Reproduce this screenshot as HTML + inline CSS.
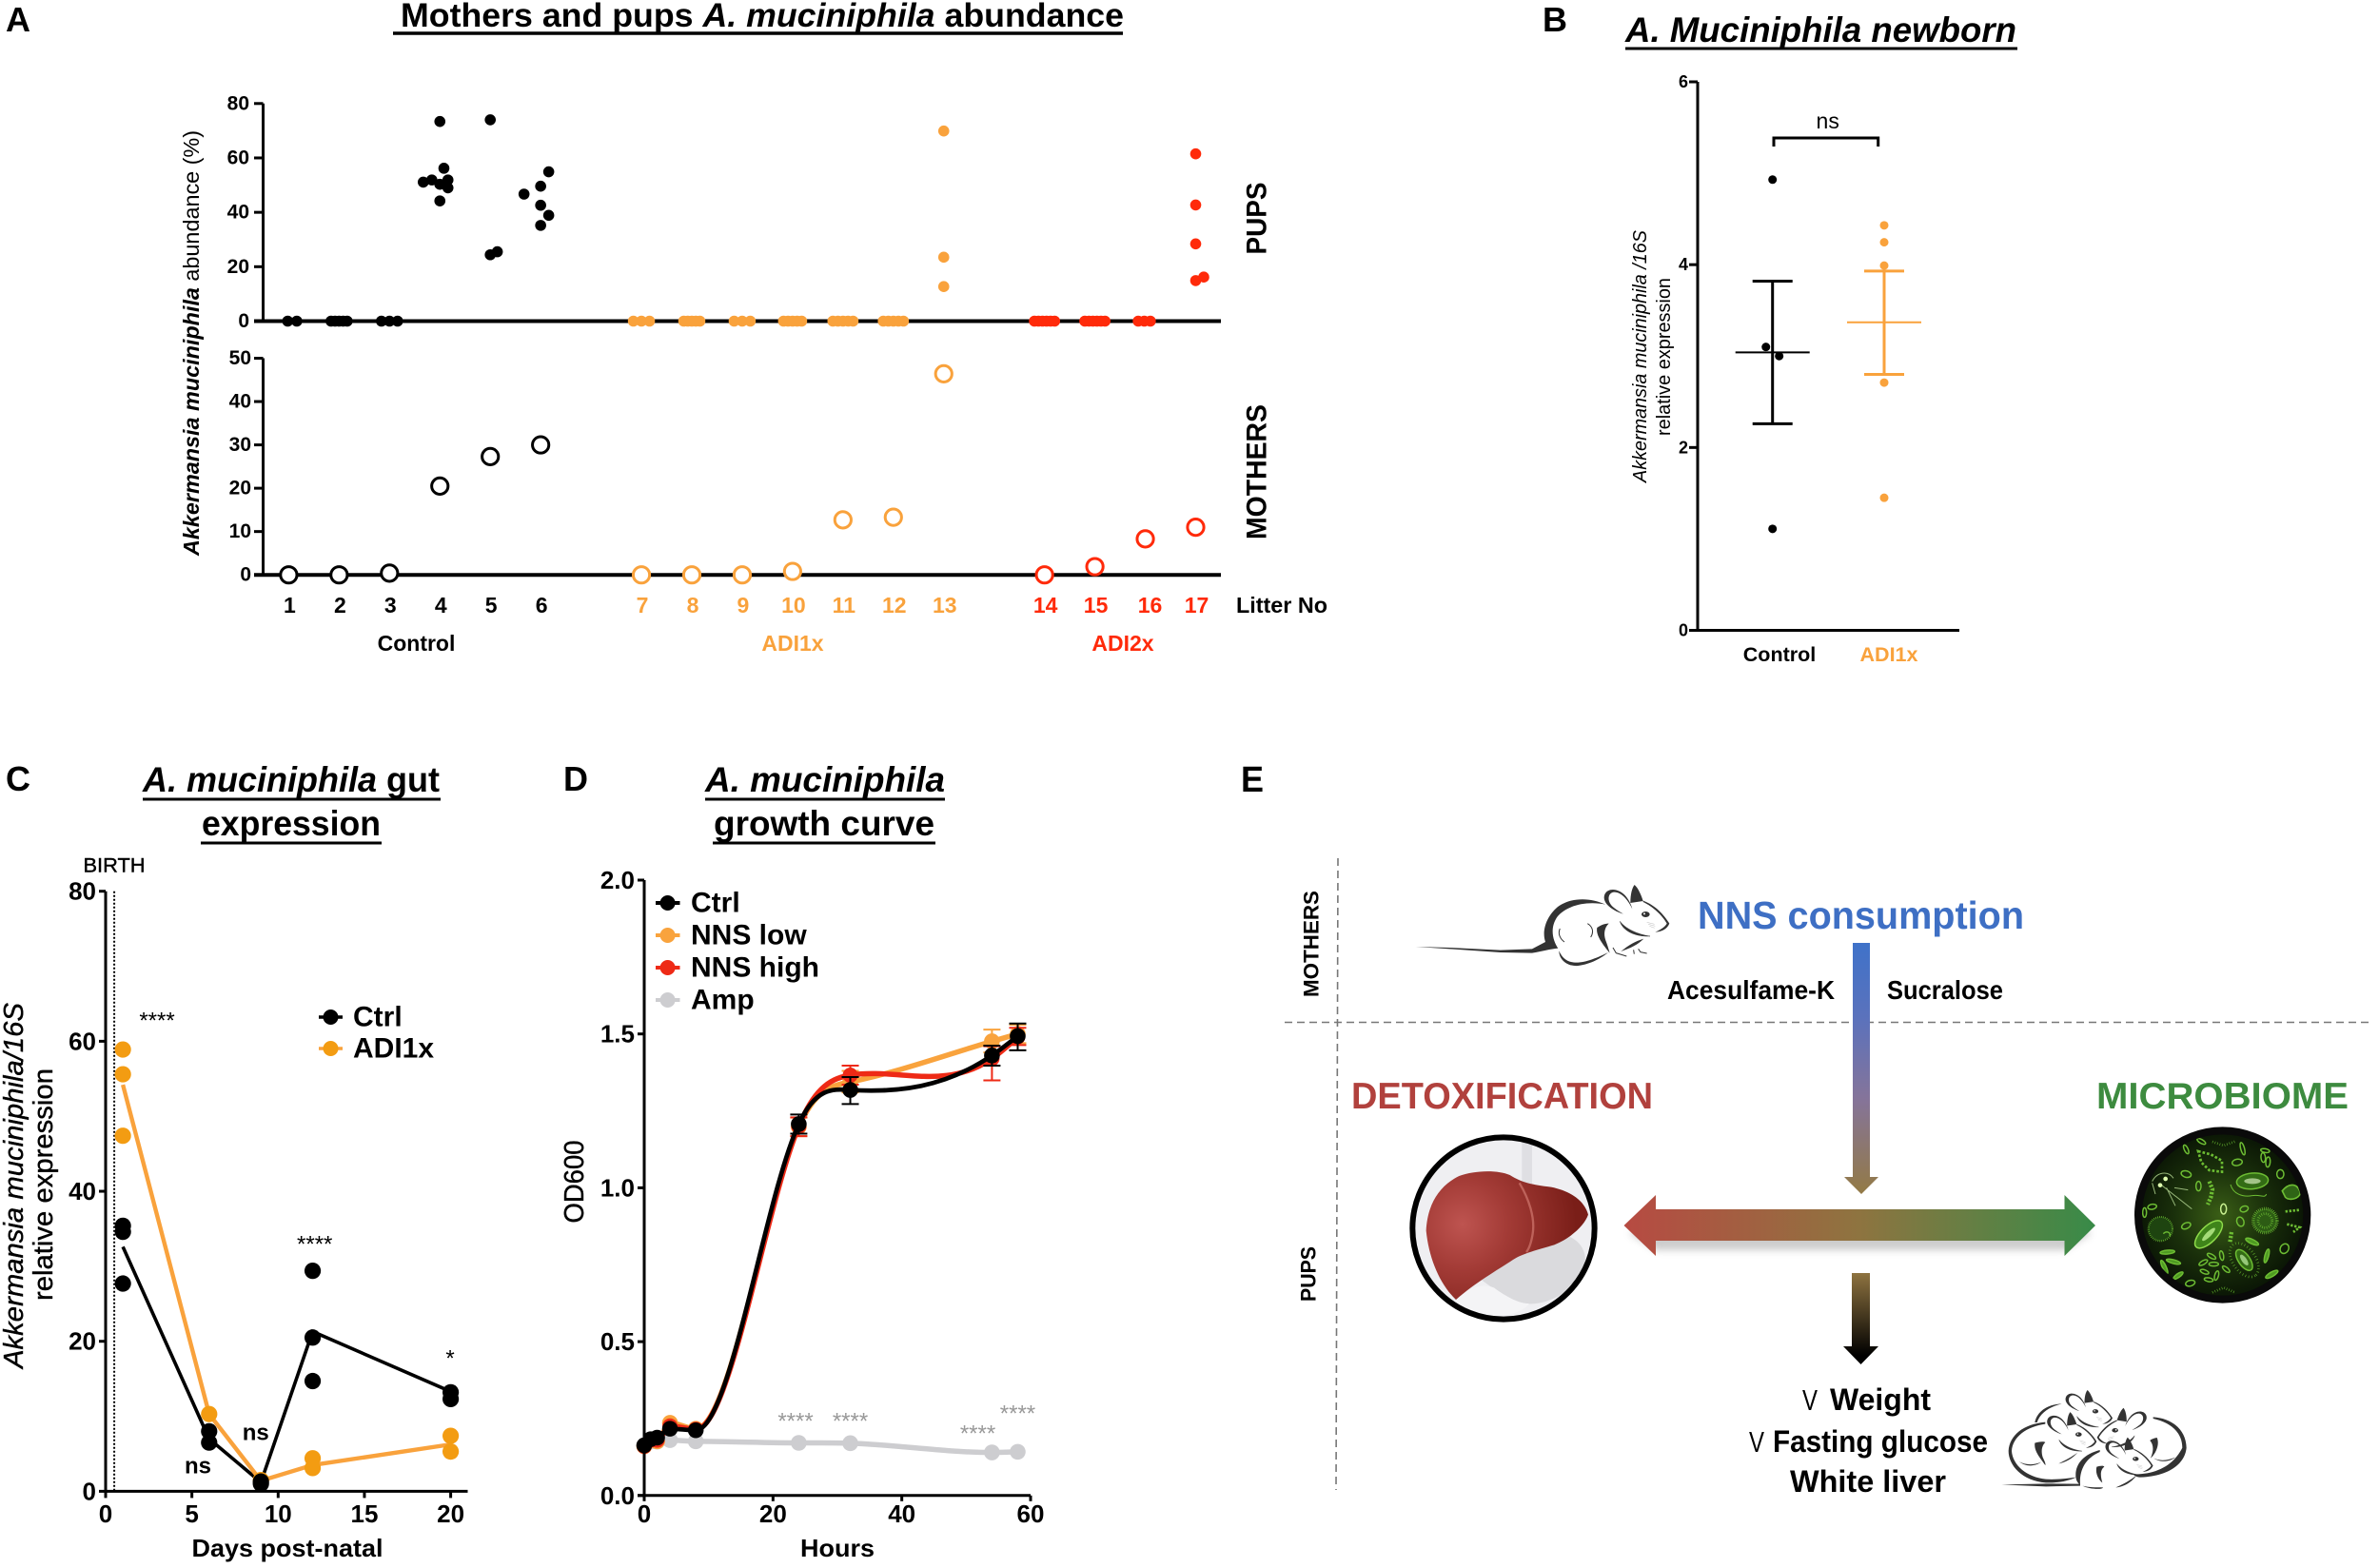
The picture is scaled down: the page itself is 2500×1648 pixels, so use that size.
<!DOCTYPE html>
<html lang="en">
<head>
<meta charset="utf-8">
<title>A. muciniphila figure</title>
<style>
html,body{margin:0;padding:0;background:#fff;width:2500px;height:1648px;overflow:hidden}
svg{display:block}
text{font-family:"Liberation Sans",sans-serif;fill:#000}
.b{font-weight:bold}
.i{font-style:italic}
.mid{text-anchor:middle}
.end{text-anchor:end}
.c{dominant-baseline:central}
</style>
</head>
<body>
<svg id="figure" xmlns="http://www.w3.org/2000/svg" width="2500" height="1648" viewBox="0 0 2500 1648">
<defs>
  <linearGradient id="grad-down" gradientUnits="userSpaceOnUse" x1="0" y1="991" x2="0" y2="1255">
    <stop offset="0" stop-color="#3F72C9"/><stop offset="0.3" stop-color="#5B72BC"/><stop offset="0.62" stop-color="#85749A"/><stop offset="1" stop-color="#937A45"/>
  </linearGradient>
  <linearGradient id="grad-h" gradientUnits="userSpaceOnUse" x1="1706" y1="0" x2="2202" y2="0">
    <stop offset="0" stop-color="#B74A42"/><stop offset="0.5" stop-color="#8E7440"/><stop offset="1" stop-color="#388B48"/>
  </linearGradient>
  <linearGradient id="grad-low" gradientUnits="userSpaceOnUse" x1="0" y1="1338" x2="0" y2="1425">
    <stop offset="0" stop-color="#8E7340"/><stop offset="1" stop-color="#000"/>
  </linearGradient>
  <radialGradient id="liver-fill" gradientUnits="userSpaceOnUse" cx="260" cy="320" r="360">
    <stop offset="0" stop-color="#BE5450"/><stop offset="0.4" stop-color="#A33B36"/><stop offset="1" stop-color="#7A1E18"/>
  </radialGradient>
  <radialGradient id="micro-fill" gradientUnits="userSpaceOnUse" cx="370" cy="290" r="265">
    <stop offset="0" stop-color="#3A5E16"/><stop offset="0.55" stop-color="#1A300B"/><stop offset="1" stop-color="#0A1505"/>
  </radialGradient>
  <filter id="soft" x="-10%" y="-50%" width="120%" height="200%"><feGaussianBlur stdDeviation="4"/></filter>
  <clipPath id="liver-clip"><circle cx="390" cy="333" r="285"/></clipPath>
  <clipPath id="micro-clip"><circle cx="377" cy="291" r="262"/></clipPath>
  <g id="mouse-head">
    <path d="M768,182C725,168 698,142 710,118C722,98 752,102 772,122C784,135 792,150 796,166C782,136 760,112 738,113C716,116 716,146 738,162C748,170 758,176 768,182Z" fill="#333"/>
    <path d="M790,147C790,120 795,100 803,90C815,100 825,125 830,141Z" fill="#333"/>
    <path d="M830,140C870,155 896,185 913,212C906,229 890,238 868,239C885,232 900,222 905,212C890,185 860,158 830,144Z" fill="#333"/>
    <path d="M757,205C765,232 800,254 852,252C825,248 780,235 757,205Z" fill="#333" stroke="#333" stroke-width="1.5"/>
    <ellipse cx="838" cy="183" rx="13" ry="9" fill="#333"/>
    <circle cx="834" cy="181" r="3" fill="#fff"/>
    <path d="M842,208L866,214M846,214L868,220M850,220L866,226" stroke="#bbb" stroke-width="1.5" fill="none"/>
  </g>
</defs>

<!-- Panel labels -->
<text class="b" x="6" y="33" font-size="36">A</text>
<text class="b" x="1621" y="33" font-size="36">B</text>
<text class="b" x="6" y="831" font-size="36">C</text>
<text class="b" x="592" y="831" font-size="36">D</text>
<text class="b" x="1304" y="832" font-size="38" textLength="24" lengthAdjust="spacingAndGlyphs">E</text>

<!-- Panel titles -->
<text class="b" x="421" y="28" font-size="35" textLength="760" lengthAdjust="spacingAndGlyphs">Mothers and pups <tspan class="i">A. muciniphila</tspan> abundance</text>
<line x1="413" y1="35" x2="1180" y2="35" stroke="#000" stroke-width="3.5"/>
<text class="b i" x="1708" y="44" font-size="37" textLength="411" lengthAdjust="spacingAndGlyphs">A. Muciniphila newborn</text>
<line x1="1708" y1="51" x2="2120" y2="51" stroke="#000" stroke-width="3"/>
<text class="b" x="150" y="832" font-size="37" textLength="312" lengthAdjust="spacingAndGlyphs"><tspan class="i">A. muciniphila</tspan> gut</text>
<line x1="150" y1="840" x2="463" y2="840" stroke="#000" stroke-width="3"/>
<text class="b" x="212" y="878" font-size="37" textLength="188" lengthAdjust="spacingAndGlyphs">expression</text>
<line x1="211" y1="886" x2="401" y2="886" stroke="#000" stroke-width="3"/>
<text class="b i" x="741" y="832" font-size="37" textLength="252" lengthAdjust="spacingAndGlyphs">A. muciniphila</text>
<line x1="741" y1="840" x2="993" y2="840" stroke="#000" stroke-width="3"/>
<text class="b" x="750" y="878" font-size="37" textLength="232" lengthAdjust="spacingAndGlyphs">growth curve</text>
<line x1="749" y1="886" x2="983" y2="886" stroke="#000" stroke-width="3"/>

<!-- Axis titles -->
<text transform="translate(201,360.5) rotate(-90)" class="mid" font-size="23" textLength="447" lengthAdjust="spacingAndGlyphs" dominant-baseline="central"><tspan class="b i">Akkermansia muciniphila</tspan> abundance (%)</text>
<text transform="translate(1321,229.5) rotate(-90)" class="b mid c" font-size="30" textLength="76" lengthAdjust="spacingAndGlyphs">PUPS</text>
<text transform="translate(1321,496) rotate(-90)" class="b mid c" font-size="30" textLength="142" lengthAdjust="spacingAndGlyphs">MOTHERS</text>
<text class="b" x="1299" y="644" font-size="23" textLength="96" lengthAdjust="spacingAndGlyphs">Litter No</text>
<text transform="translate(1724,374.5) rotate(-90)" class="mid c" font-size="20" textLength="265" lengthAdjust="spacingAndGlyphs"><tspan class="i">Akkermansia muciniphila /16S</tspan></text>
<text transform="translate(1749,375) rotate(-90)" class="mid c" font-size="20" textLength="166" lengthAdjust="spacingAndGlyphs">relative expression</text>
<text transform="translate(15,1246) rotate(-90)" class="mid c i" font-size="29" textLength="384" lengthAdjust="spacingAndGlyphs" stroke="#000" stroke-width="0.4">Akkermansia muciniphila/16S</text>
<text transform="translate(46,1245) rotate(-90)" class="mid c" font-size="29" textLength="244" lengthAdjust="spacingAndGlyphs" stroke="#000" stroke-width="0.4">relative expression</text>
<text class="b mid c" x="302" y="1627" font-size="26" textLength="201" lengthAdjust="spacingAndGlyphs">Days post-natal</text>
<text class="mid c" x="120" y="910" font-size="21" textLength="65" lengthAdjust="spacingAndGlyphs" stroke="#000" stroke-width="0.4">BIRTH</text>
<text transform="translate(604,1242) rotate(-90)" class="mid c" font-size="29" textLength="87" lengthAdjust="spacingAndGlyphs" stroke="#000" stroke-width="0.4">OD600</text>
<text class="b mid c" x="880" y="1627" font-size="26" textLength="78" lengthAdjust="spacingAndGlyphs">Hours</text>

<g id="panel-a"></g>
<g id="panel-b"></g>
<g id="panel-c"></g>
<g id="panel-d"></g>

<!-- Panel E -->
<g>
  <line x1="1406" y1="902" x2="1404" y2="1566" stroke="#777" stroke-width="1.6" stroke-dasharray="8 5"/>
  <line x1="1350" y1="1074.5" x2="2494" y2="1074.5" stroke="#777" stroke-width="1.6" stroke-dasharray="8 5"/>
  <text transform="translate(1378,992) rotate(-90)" class="b mid c" font-size="22" textLength="112" lengthAdjust="spacingAndGlyphs">MOTHERS</text>
  <text transform="translate(1375,1339) rotate(-90)" class="b mid c" font-size="22" textLength="58" lengthAdjust="spacingAndGlyphs">PUPS</text>

  <g transform="translate(1450,900) scale(0.3333)" fill="#333">
    <path d="M712,152C660,128 600,130 560,160C525,190 510,235 522,270L480,292L380,296L220,288L113,285L220,292L380,303L480,305C510,300 540,292 562,290C545,265 535,225 560,190C590,155 650,140 712,152Z"/>
    <path d="M565,298C565,325 590,348 625,345C665,340 700,320 720,303C690,318 650,335 620,335C590,335 575,320 565,298Z"/>
    <path d="M685,225C700,215 712,212 722,212C708,225 705,245 712,265C718,280 722,295 725,305C705,280 680,250 685,225Z"/>
    <path d="M568,228C560,245 570,262 582,270M655,212C672,222 675,240 665,255M735,288L745,305L778,315M800,295L802,308M815,292L822,302L842,306" fill="none" stroke="#333" stroke-width="3"/>
    <path d="M832,260C815,278 790,290 760,300C785,280 805,268 832,260Z"/>
    <use href="#mouse-head"/>
  </g>

  <text class="b" x="1784" y="976" font-size="41" textLength="343" lengthAdjust="spacingAndGlyphs" style="fill:#3E6FC4">NNS consumption</text>
  <text class="b" x="1752" y="1050" font-size="28" textLength="176" lengthAdjust="spacingAndGlyphs">Acesulfame-K</text>
  <text class="b" x="1983" y="1050" font-size="28" textLength="122" lengthAdjust="spacingAndGlyphs">Sucralose</text>

  <polygon points="1947,991 1965,991 1965,1237 1974,1237 1956,1255 1938,1237 1947,1237" fill="url(#grad-down)"/>

  <text class="b" x="1420" y="1165" font-size="39" textLength="317" lengthAdjust="spacingAndGlyphs" style="fill:#B1413D">DETOXIFICATION</text>
  <text class="b" x="2203" y="1165" font-size="39" textLength="265" lengthAdjust="spacingAndGlyphs" style="fill:#3D8B3F">MICROBIOME</text>

  <polygon points="1712,1296 1740,1280 2170,1280 2198,1296 2170,1314 1740,1314" fill="#888" opacity="0.42" filter="url(#soft)"/>
  <polygon points="1706.5,1288 1740,1256 1740,1271 2169.5,1271 2169.5,1256 2202,1288 2169.5,1320 2169.5,1304 1740,1304 1740,1320" fill="url(#grad-h)"/>

  <polygon points="1946,1338 1965,1338 1965,1415 1974,1415 1955.5,1434 1937,1415 1946,1415" fill="url(#grad-low)"/>

  <!-- liver -->
  <g transform="translate(1450,1180) scale(0.3333)">
    <g clip-path="url(#liver-clip)">
      <rect x="90" y="30" width="600" height="610" fill="#EFEFF2"/>
      <rect x="448" y="40" width="32" height="190" fill="#DFDFE3"/>
      <path d="M300,480C380,430 480,400 600,360C640,380 660,420 640,470C590,560 480,590 420,560C380,540 340,510 300,480Z" fill="#DADADD"/>
      <path d="M240,560C280,520 320,505 360,520C400,550 440,570 470,570C450,600 380,620 300,610C270,600 250,580 240,560Z" fill="#F4F4F6"/>
      <path d="M240,558C190,510 155,430 146,340C150,260 185,200 250,168C300,150 370,148 410,165C450,190 480,195 540,203C600,215 645,245 657,290C645,325 600,365 550,385C500,400 450,412 420,432C370,465 300,505 240,558Z" fill="url(#liver-fill)"/>
      <path d="M440,190C470,240 490,300 482,350C478,375 472,395 462,408" fill="none" stroke="#BE625A" stroke-width="7"/>
    </g>
    <circle cx="390" cy="333" r="287" fill="none" stroke="#000" stroke-width="18"/>
  </g>

  <!-- microbiome -->
  <g transform="translate(2210,1180) scale(0.3333)">
    <circle cx="377" cy="291" r="264" fill="url(#micro-fill)"/>
    <g clip-path="url(#micro-clip)" fill="none" stroke="#6DBD33" stroke-width="4.5">
      <ellipse cx="380" cy="272" rx="9" ry="16" stroke="#C8F090"/><ellipse cx="262" cy="325" rx="15" ry="9" transform="rotate(-25 262 325)"/>
      <ellipse cx="433" cy="312" rx="11" ry="15" transform="rotate(-20 433 312)"/><ellipse cx="445" cy="272" rx="13" ry="9" transform="rotate(-20 445 272)"/>
      <ellipse cx="262" cy="162" rx="16" ry="10" transform="rotate(15 262 162)"/><ellipse cx="301" cy="200" rx="8" ry="15"/>
      <ellipse cx="423" cy="125" rx="16" ry="10" transform="rotate(-10 423 125)"/><ellipse cx="559" cy="162" rx="11" ry="14"/>
      <ellipse cx="155" cy="265" rx="14" ry="8" transform="rotate(-10 155 265)"/><ellipse cx="131" cy="283" rx="6" ry="15"/>
      <ellipse cx="572" cy="397" rx="13" ry="16" transform="rotate(30 572 397)"/><ellipse cx="275" cy="506" rx="15" ry="9" transform="rotate(-15 275 506)"/>
      <ellipse cx="333" cy="495" rx="14" ry="6" transform="rotate(10 333 495)"/><ellipse cx="358" cy="482" rx="6" ry="15" transform="rotate(15 358 482)"/>
      <ellipse cx="320" cy="470" rx="14" ry="6" transform="rotate(20 320 470)"/><ellipse cx="349" cy="446" rx="15" ry="6"/>
      <ellipse cx="388" cy="462" rx="14" ry="6" transform="rotate(40 388 462)"/><ellipse cx="316" cy="441" rx="15" ry="6" transform="rotate(-30 316 441)"/>
      <ellipse cx="342" cy="421" rx="15" ry="6" transform="rotate(30 342 421)"/><ellipse cx="374" cy="419" rx="6" ry="15" transform="rotate(-10 374 419)"/>
      <ellipse cx="470" cy="375" rx="22" ry="7" transform="rotate(25 470 375)" fill="#4E9A22"/><ellipse cx="516" cy="420" rx="6" ry="22" transform="rotate(15 516 420)" fill="#4E9A22"/>
      <ellipse cx="532" cy="478" rx="22" ry="7" transform="rotate(-30 532 478)" fill="#4E9A22"/><ellipse cx="203" cy="408" rx="23" ry="6" transform="rotate(-5 203 408)" fill="#4E9A22"/>
      <ellipse cx="222" cy="438" rx="23" ry="6" transform="rotate(15 222 438)" fill="#4E9A22"/><ellipse cx="193" cy="455" rx="6" ry="23" transform="rotate(-25 193 455)" fill="#4E9A22"/>
      <ellipse cx="237" cy="482" rx="18" ry="6" transform="rotate(-35 237 482)" fill="#4E9A22"/><ellipse cx="511" cy="88" rx="14" ry="6" transform="rotate(10 511 88)"/>
      <ellipse cx="505" cy="110" rx="7" ry="15" transform="rotate(-5 505 110)"/><ellipse cx="520" cy="124" rx="7" ry="16" transform="rotate(5 520 124)"/>
      <ellipse cx="440" cy="82" rx="6" ry="20" transform="rotate(-15 440 82)"/><ellipse cx="310" cy="59" rx="15" ry="6" transform="rotate(30 310 59)"/>
      <ellipse cx="262" cy="84" rx="6" ry="15" transform="rotate(-25 262 84)"/>
      <ellipse cx="333" cy="352" rx="56" ry="25" transform="rotate(-45 333 352)" fill="#3F841A" stroke="#8EDB4A"/>
      <ellipse cx="333" cy="352" rx="28" ry="8" transform="rotate(-45 333 352)" fill="#A5DC78" stroke="none"/>
      <ellipse cx="471" cy="184" rx="50" ry="25" transform="rotate(-5 471 184)" fill="#336C15"/>
      <ellipse cx="471" cy="184" rx="26" ry="9" fill="#A3C488" stroke="none"/>
      <path d="M402,195C410,225 440,235 470,230C495,225 510,240 515,225" stroke-width="3"/>
      <ellipse cx="445" cy="433" rx="38" ry="18" transform="rotate(55 445 433)" fill="#336C15"/>
      <ellipse cx="445" cy="433" rx="20" ry="8" transform="rotate(55 445 433)" fill="#96C87A" stroke="none"/>
      <ellipse cx="445" cy="433" rx="60" ry="36" transform="rotate(55 445 433)" stroke-width="8" stroke-dasharray="2 8" stroke="#5EA82C"/>
      <circle cx="511" cy="309" r="38" fill="#2D5C14" stroke-width="10" stroke-dasharray="2 4"/>
      <circle cx="511" cy="309" r="22" stroke-width="8" stroke-dasharray="2 5"/>
      <circle cx="181" cy="335" r="38" fill="#1E4410" stroke-width="6" stroke-dasharray="2 4"/>
      <path d="M190,350C200,340 215,345 210,358" stroke-width="4"/>
      <path d="M345,60L380,72L420,58" stroke-width="8" stroke-dasharray="2 6" stroke="#5EA82C"/>
      <path d="M345,535L380,520L418,536" stroke-width="8" stroke-dasharray="2 6" stroke="#5EA82C"/>
      <path d="M335,185L345,210L340,235L330,258" stroke-width="13" stroke-dasharray="7 5"/>
      <path d="M405,345L400,378" stroke-width="13" stroke-dasharray="7 5"/>
      <path d="M300,90L340,100L375,120L375,155L335,150L310,125Z" stroke-width="8" stroke-dasharray="8 6"/>
      <path d="M575,280L620,275M580,320L620,330L600,345" stroke-width="8" stroke-dasharray="7 5"/>
      <path d="M565,215C585,190 610,190 620,215C630,235 590,250 575,235Z" fill="#2F6416" stroke-width="5"/>
      <path d="M155,185C170,155 205,150 222,175M182,195L280,272M200,205L228,262M225,205L268,212M155,190L165,225" stroke="#98B87A" stroke-width="3"/>
      <circle cx="197" cy="177" r="7" fill="#E0FFB0" stroke="none"/><circle cx="180" cy="197" r="7" fill="#E0FFB0" stroke="none"/>
    </g>
    <circle cx="377" cy="291" r="266" fill="none" stroke="#0A0A0A" stroke-width="24"/>
  </g>

  <text x="1838" y="1526" font-size="31" textLength="16" lengthAdjust="spacingAndGlyphs">V</text>
  <text x="1894" y="1482" font-size="31" textLength="16" lengthAdjust="spacingAndGlyphs">V</text>
  <text class="b" x="1923" y="1482" font-size="32" textLength="106" lengthAdjust="spacingAndGlyphs">Weight</text>
  <text class="b" x="1863" y="1526" font-size="32" textLength="226" lengthAdjust="spacingAndGlyphs">Fasting glucose</text>
  <text class="b" x="1881" y="1568" font-size="32" textLength="164" lengthAdjust="spacingAndGlyphs">White liver</text>

  <g transform="translate(2050,1400) scale(0.3333)" fill="#333">
    <path d="M298,284C230,290 185,325 182,375C182,420 225,470 300,475C340,476 370,470 395,458C365,462 335,466 300,464C240,458 195,420 192,375C195,330 240,298 298,290Z"/>
    <path d="M265,285C272,250 305,228 350,226C310,236 282,255 272,285Z"/>
    <path d="M638,268C700,272 742,310 743,365C738,420 680,455 600,458C585,458 578,452 575,448C640,450 700,425 730,365C730,318 695,285 638,273Z"/>
    <path d="M470,372C420,385 392,415 394,455C395,468 400,476 408,482C405,440 420,400 470,378Z"/>
    <path d="M160,481L300,478L408,479L408,485L300,487Z"/>
    <path d="M415,485C440,497 480,497 480,490C455,490 435,490 415,485ZM520,490C545,480 570,465 585,452C575,470 545,490 520,490ZM265,350C280,345 295,345 298,348C285,360 285,380 290,395C296,408 300,416 298,420C280,395 262,375 265,350ZM460,425C470,422 482,420 484,425C470,435 472,455 478,475C465,465 455,445 460,425ZM650,333C640,335 632,338 628,342C640,355 640,375 630,398C645,385 660,355 650,333ZM215,408C235,420 265,420 285,410C265,425 235,425 215,408ZM708,395C685,405 660,408 640,398C660,412 690,410 708,395ZM340,415C360,405 385,392 400,380C385,398 360,412 340,415Z"/>
    <use href="#mouse-head" transform="translate(583,400) scale(0.73) translate(-838,-183)"/>
    <use href="#mouse-head" transform="translate(456,250) scale(0.72) translate(-838,-183)"/>
    <use href="#mouse-head" transform="translate(403,323) scale(0.76) translate(-838,-183)"/>
    <use href="#mouse-head" transform="translate(518,310) scale(-0.76,0.76) translate(-838,-183)"/>
  </g>
</g>

<script>
// ---------- Panel A data ----------
const litterNumbers = [1, 2, 3, 4, 5, 6, 7, 8, 9, 10, 11, 12, 13, 14, 15, 16, 17];
const groupNames = ['Control', 'ADI1x', 'ADI2x'];
const pupsTicks = [0, 20, 40, 60, 80];
const mothersTicks = [0, 10, 20, 30, 40, 50];
const pupsValues = [
  [0, 0],
  [0, 0, 0, 0, 0],
  [0, 0, 0],
  [51.1, 51.9, 50.3, 51.9, 49, 44.2, 56.2, 73.4],
  [74, 24.4, 25.5],
  [46.7, 49.6, 54.9, 42.6, 38.9, 35.2],
  [0, 0, 0],
  [0, 0, 0, 0, 0],
  [0, 0, 0],
  [0, 0, 0, 0, 0],
  [0, 0, 0, 0, 0],
  [0, 0, 0, 0, 0],
  [69.9, 23.5, 12.7],
  [0, 0, 0, 0, 0, 0],
  [0, 0, 0, 0, 0, 0],
  [0, 0, 0],
  [61.5, 42.7, 28.4, 14.9, 16.2]
];
const pupsJitter = [
  [-0.02, 0.16],
  [-0.16, -0.08, 0, 0.08, 0.16],
  [-0.16, 0, 0.16],
  [-0.33, -0.16, 0, 0.16, 0.16, 0, 0.08, 0],
  [0, 0, 0.14],
  [-0.33, 0, 0.16, 0, 0.16, 0],
  [-0.16, 0, 0.16],
  [-0.16, -0.08, 0, 0.08, 0.16],
  [-0.16, 0, 0.16],
  [-0.18, -0.09, 0, 0.09, 0.18],
  [-0.2, -0.1, 0, 0.1, 0.2],
  [-0.2, -0.1, 0, 0.1, 0.2],
  [0, 0, 0],
  [-0.2, -0.12, -0.04, 0.04, 0.12, 0.2],
  [-0.2, -0.12, -0.04, 0.04, 0.12, 0.2],
  [-0.14, -0.02, 0.1],
  [0, 0, 0, 0, 0.16]
];
const mothersValues = [0, 0, 0.4, 20.5, 27.3, 30, 0, 0, 0, 0.8, 12.7, 13.3, 46.4, 0, 1.9, 8.3, 11];

// ---------- Panel B data ----------
const newbornTicks = [0, 2, 4, 6];
const newbornGroups = ['Control', 'ADI1x'];
const newbornControl = [4.93, 3.1, 3.0, 1.11];
const newbornControlJitter = [0, -0.18, 0.18, 0];
const newbornAdi = [4.43, 4.245, 3.99, 2.71, 1.45];
const newbornMean = [3.04, 3.37];
const newbornUpper = [3.82, 3.93];
const newbornLower = [2.26, 2.80];

// ---------- Panel C data ----------
const gutXTicks = [0, 5, 10, 15, 20];
const gutYTicks = [0, 20, 40, 60, 80];
const gutDays = [1, 6, 9, 12, 20];
const gutCtrlSamples = [[35.4, 34.6, 27.7], [8, 6.5], [1.3, 1], [29.4, 20.5, 14.7], [13.2, 12.3]];
const gutAdiSamples = [[58.9, 55.6, 47.4], [10.3], [1.5], [4.4, 3.1], [7.4, 5.3]];
const gutCtrlMean = [32.6, 7, 1.2, 21.3, 13.3];
const gutAdiMean = [54.2, 10.3, 1.4, 3.5, 6.25];
const gutBirthDay = 0.5;

// ---------- Panel D data ----------
const growthXTicks = [0, 20, 40, 60];
const growthYTicks = [0, 0.5, 1, 1.5, 2];
const growthHours = [0, 1, 2, 4, 8, 24, 32, 54, 58];
const growthCtrl = [0.163, 0.183, 0.188, 0.217, 0.212, 1.207, 1.318, 1.43, 1.493];
const growthLow = [0.16, 0.18, 0.176, 0.236, 0.217, 1.198, 1.344, 1.476, 1.50];
const growthHigh = [0.16, 0.18, 0.18, 0.226, 0.215, 1.2, 1.366, 1.42, 1.49];
const growthAmp = [0.16, 0.175, 0.175, 0.18, 0.176, 0.171, 0.17, 0.14, 0.142];
const errorHours = [24, 32, 54, 58];
const growthCtrlUpper = [1.238, 1.36, 1.462, 1.534];
const growthCtrlLower = [1.176, 1.272, 1.397, 1.447];
const growthLowUpper = [1.228, 1.38, 1.514, 1.53];
const growthLowLower = [1.168, 1.31, 1.44, 1.47];
const growthHighUpper = [1.229, 1.397, 1.46, 1.52];
const growthHighLower = [1.168, 1.335, 1.349, 1.464];
const ampStarHours = [23.5, 32, 51.8, 58];
const ampStarValues = [0.253, 0.253, 0.213, 0.277];

const NS = 'http://www.w3.org/2000/svg';
const BLACK = '#000000', ORANGE = '#F9A23C', RED = '#FF2A0A', GREY = '#CDCDD0';

function add(parent, tag, attrs, text) {
  const el = document.createElementNS(NS, tag);
  for (const k in attrs) el.setAttribute(k, attrs[k]);
  if (text !== undefined) el.textContent = text;
  parent.appendChild(el);
  return el;
}
function line(parent, x1, y1, x2, y2, stroke, width, name) {
  const el = add(parent, 'line', {x1: x1, y1: y1, x2: x2, y2: y2, stroke: stroke, 'stroke-width': width});
  
  
  return el;
}
function label(parent, x, y, str, size, anchor, bold, fill, name) {
  const el = add(parent, 'text', {x: x, y: y, 'font-size': size, 'text-anchor': anchor, 'dominant-baseline': 'central', 'font-weight': bold ? 'bold' : 'normal'}, str);
  el.style.fill = fill;
  
  
  return el;
}
function dot(parent, x, y, r, fill, name) {
  const el = add(parent, 'circle', {cx: x, cy: y, r: r, fill: fill});
  
  
  return el;
}
function linear(d0, d1, r0, r1) {
  return function (v) { return r0 + (v - d0) * (r1 - r0) / (d1 - d0); };
}
function fmt(v) { return String(v); }

// ---------- Panel A ----------
(function () {
  const g = document.getElementById('panel-a');
  const slot = function (n) { return n + (n >= 14 ? 2 : n >= 7 ? 1 : 0); };
  const xA = linear(1, 19, 303.4, 1256.5);
  const yPups = linear(0, 80, 337.5, 108.8);
  const yMoth = linear(0, 50, 604.2, 376.5);
  const axisX = 276.5;
  const colorOf = function (n) { return n >= 14 ? RED : n >= 7 ? ORANGE : BLACK; };
  line(g, axisX, yPups(80), axisX, yPups(0), BLACK, 3, 'pups-y-axis');
  line(g, axisX, yMoth(50), axisX, yMoth(0), BLACK, 3, 'mothers-y-axis');
  pupsTicks.forEach(function (t) {
    if (t > 0) line(g, 267, yPups(t), axisX, yPups(t), BLACK, 3, 'pups-y-tick');
    label(g, 262, yPups(t), fmt(t), 21, 'end', true, BLACK, 'pups-y-tick-label');
  });
  mothersTicks.forEach(function (t) {
    if (t > 0) line(g, 267, yMoth(t), axisX, yMoth(t), BLACK, 3, 'mothers-y-tick');
    label(g, 264, yMoth(t), fmt(t), 21, 'end', true, BLACK, 'mothers-y-tick-label');
  });
  line(g, 267, yPups(0), 1283, yPups(0), BLACK, 4, 'pups-zero-line');
  line(g, 267, yMoth(0), 1283, yMoth(0), BLACK, 4, 'mothers-zero-line');
  litterNumbers.forEach(function (n, i) {
    const col = colorOf(n);
    pupsValues[i].forEach(function (v, j) {
      dot(g, xA(slot(n) + pupsJitter[i][j]), yPups(v), 5.8, col, 'pups-dot-litter-' + n);
    });
    const ring = add(g, 'circle', {cx: xA(slot(n)), cy: yMoth(mothersValues[i]), r: 8.6, fill: '#fff', stroke: col, 'stroke-width': 3});
    
    
    label(g, xA(slot(n)) + (n === 16 ? 5 : 1), 636, fmt(n), 23, 'middle', true, col === BLACK ? BLACK : col, 'litter-label-' + n);
  });
  label(g, 437.5, 676, groupNames[0], 23, 'middle', true, BLACK, 'group-label-control');
  label(g, 833, 676, groupNames[1], 23, 'middle', true, ORANGE, 'group-label-adi1x');
  label(g, 1180, 676, groupNames[2], 23, 'middle', true, RED, 'group-label-adi2x');
})();

// ---------- Panel B ----------
(function () {
  const g = document.getElementById('panel-b');
  const yB = linear(0, 6, 662.5, 86);
  const catX = linear(0, 1, 1862.7, 1980);
  const axisX = 1784;
  line(g, axisX, yB(6), axisX, yB(0), BLACK, 3, 'newborn-y-axis');
  line(g, 1775, yB(0), 2059, yB(0), BLACK, 3, 'newborn-x-axis');
  newbornTicks.forEach(function (t) {
    line(g, 1775, yB(t), axisX, yB(t), BLACK, 3, 'newborn-y-tick');
    label(g, 1774, yB(t), fmt(t), 18, 'end', true, BLACK, 'newborn-y-tick-label');
  });
  [BLACK, ORANGE].forEach(function (col, i) {
    const x = catX(i);
    const nm = i === 0 ? 'control' : 'adi1x';
    line(g, x, yB(newbornUpper[i]), x, yB(newbornLower[i]), col, 3, 'newborn-error-bar-' + nm);
    line(g, x - 21, yB(newbornUpper[i]), x + 21, yB(newbornUpper[i]), col, 3, 'newborn-error-cap-upper-' + nm);
    line(g, x - 21, yB(newbornLower[i]), x + 21, yB(newbornLower[i]), col, 3, 'newborn-error-cap-lower-' + nm);
    line(g, x - 39, yB(newbornMean[i]), x + 39, yB(newbornMean[i]), col, 2, 'newborn-mean-line-' + nm);
  });
  newbornControl.forEach(function (v, i) {
    dot(g, catX(0 + newbornControlJitter[i] * 0.33), yB(v), 4.5, BLACK, 'newborn-dot-control');
  });
  newbornAdi.forEach(function (v) {
    dot(g, catX(1), yB(v), 4.5, ORANGE, 'newborn-dot-adi1x');
  });
  const bracket = add(g, 'path', {d: 'M1864,154V145H1973.7V154', fill: 'none', stroke: BLACK, 'stroke-width': 3});
  
  
  label(g, 1920.7, 127, 'ns', 23, 'middle', false, BLACK, 'ns-label');
  label(g, 1870, 688, newbornGroups[0], 21.5, 'middle', true, BLACK, 'newborn-x-label-control');
  label(g, 1985, 688, newbornGroups[1], 21.5, 'middle', true, ORANGE, 'newborn-x-label-adi1x');
})();

// ---------- Panel C ----------
(function () {
  const g = document.getElementById('panel-c');
  const xC = linear(0, 20, 111, 473.6);
  const yC = linear(0, 80, 1567.4, 936.7);
  const ADI = '#F39C12';
  line(g, xC(0), yC(80), xC(0), yC(0), BLACK, 3, 'gut-y-axis');
  line(g, 104, yC(0), 491.5, yC(0), BLACK, 3, 'gut-x-axis');
  const birth = line(g, xC(gutBirthDay), yC(80), xC(gutBirthDay), yC(0), BLACK, 2, 'birth-dotted-line');
  birth.setAttribute('stroke-dasharray', '2 2');
  gutYTicks.forEach(function (t) {
    if (t > 0) line(g, 104, yC(t), xC(0), yC(t), BLACK, 3, 'gut-y-tick');
    label(g, 101, yC(t), fmt(t), 26, 'end', true, BLACK, 'gut-y-tick-label');
  });
  gutXTicks.forEach(function (t) {
    line(g, xC(t), yC(0), xC(t), yC(0) + 7, BLACK, 3, 'gut-x-tick');
    label(g, xC(t), 1591, fmt(t), 26, 'middle', true, BLACK, 'gut-x-tick-label');
  });
  const poly = function (vals) {
    return gutDays.map(function (d, i) { return xC(d) + ',' + yC(vals[i]); }).join(' ');
  };
  const ctrlLine = add(g, 'polyline', {points: poly(gutCtrlMean), fill: 'none', stroke: BLACK, 'stroke-width': 3.6});
  
  
  const adiLine = add(g, 'polyline', {points: poly(gutAdiMean), fill: 'none', stroke: ORANGE, 'stroke-width': 4.4});
  
  
  gutDays.forEach(function (d, i) {
    gutAdiSamples[i].forEach(function (v) {
      dot(g, xC(d), yC(v), 8.6, ADI, 'gut-adi1x-dot');
    });
  });
  gutDays.forEach(function (d, i) {
    gutCtrlSamples[i].forEach(function (v) {
      dot(g, xC(d), yC(v), 8.6, BLACK, 'gut-ctrl-dot');
    });
  });
  label(g, 208, 1541, 'ns', 24, 'middle', true, BLACK, 'gut-ns-day-6');
  label(g, 268.7, 1506, 'ns', 24, 'middle', true, BLACK, 'gut-ns-day-9');
  label(g, 165, 1073, '****', 24, 'middle', false, BLACK, 'gut-stars-day-1');
  label(g, 330.7, 1308, '****', 24, 'middle', false, BLACK, 'gut-stars-day-12');
  label(g, 473, 1428, '*', 24, 'middle', false, BLACK, 'gut-star-day-20');
  [[BLACK, 'Ctrl', 1069], [ORANGE, 'ADI1x', 1102]].forEach(function (e) {
    line(g, 335, e[2], 360, e[2], e[0], 3.5, 'gut-legend-line-' + e[1]);
    dot(g, 347.5, e[2], 8, e[0] === ORANGE ? ADI : BLACK, 'gut-legend-dot-' + e[1]);
    label(g, 371, e[2], e[1], 30, 'start', true, BLACK, 'gut-legend-text-' + e[1]);
  });
})();

// ---------- Panel D ----------
(function () {
  const g = document.getElementById('panel-d');
  const xD = linear(0, 60, 677, 1083);
  const yD = linear(0, 2, 1571.8, 925);
  const LOW = '#F9A33D', HIGH = '#EE2A16';
  // Tangents: monotone over the lag phase (up to the knot at hour 8), then a C2 spline with a flat start.
  function smoothPath(xs, ys) {
    const n = xs.length, dx = [], m = [], t = [];
    for (let i = 0; i < n - 1; i++) { dx[i] = xs[i + 1] - xs[i]; m[i] = (ys[i + 1] - ys[i]) / dx[i]; }
    const knot = growthHours.indexOf(8);
    t[0] = m[0];
    for (let i = 1; i < knot; i++) {
      t[i] = m[i - 1] * m[i] <= 0 ? 0 : 3 * (dx[i - 1] + dx[i]) / ((2 * dx[i] + dx[i - 1]) / m[i - 1] + (dx[i] + 2 * dx[i - 1]) / m[i]);
    }
    t[knot] = 0;
    const cp = [], dp = [];
    cp[knot] = 0;
    dp[knot] = 0;
    for (let i = knot + 1; i < n; i++) {
      let a, b, c, r;
      if (i < n - 1) {
        a = dx[i];
        b = 2 * (dx[i - 1] + dx[i]);
        c = dx[i - 1];
        r = 3 * (dx[i] * m[i - 1] + dx[i - 1] * m[i]);
      } else {
        a = 1;
        b = 2;
        c = 0;
        r = 3 * m[n - 2];
      }
      const den = b - a * cp[i - 1];
      cp[i] = c / den;
      dp[i] = (r - a * dp[i - 1]) / den;
    }
    t[n - 1] = dp[n - 1];
    for (let i = n - 2; i > knot; i--) t[i] = dp[i] - cp[i] * t[i + 1];
    let d = 'M' + xs[0] + ',' + ys[0];
    for (let i = 0; i < n - 1; i++) {
      d += 'C' + (xs[i] + dx[i] / 3) + ',' + (ys[i] + t[i] * dx[i] / 3) + ' ' + (xs[i + 1] - dx[i] / 3) + ',' + (ys[i + 1] - t[i + 1] * dx[i] / 3) + ' ' + xs[i + 1] + ',' + ys[i + 1];
    }
    return d;
  }
  function series(vals, col, width, r, name, upper, lower) {
    const p = add(g, 'path', {d: smoothPath(growthHours.map(xD), vals.map(yD)), fill: 'none', stroke: col, 'stroke-width': width});
    
    
    if (upper) {
      errorHours.forEach(function (h, i) {
        line(g, xD(h), yD(upper[i]), xD(h), yD(lower[i]), col, 2, 'growth-error-bar-' + name);
        line(g, xD(h) - 9, yD(upper[i]), xD(h) + 9, yD(upper[i]), col, 2, 'growth-error-cap-' + name);
        line(g, xD(h) - 9, yD(lower[i]), xD(h) + 9, yD(lower[i]), col, 2, 'growth-error-cap-' + name);
      });
    }
    growthHours.forEach(function (h, i) {
      dot(g, xD(h), yD(vals[i]), r, col, 'growth-dot-' + name);
    });
  }
  series(growthAmp, GREY, 5.5, 8.3, 'amp');
  series(growthLow, LOW, 5.5, 8.3, 'nns-low', growthLowUpper, growthLowLower);
  series(growthHigh, HIGH, 5.5, 8, 'nns-high', growthHighUpper, growthHighLower);
  series(growthCtrl, BLACK, 4.7, 8.3, 'ctrl', growthCtrlUpper, growthCtrlLower);
  line(g, 677, yD(2), 677, yD(0), BLACK, 3, 'growth-y-axis');
  line(g, 670, yD(0), 1083, yD(0), BLACK, 3, 'growth-x-axis');
  growthYTicks.forEach(function (t) {
    line(g, 670, yD(t), 677, yD(t), BLACK, 3, 'growth-y-tick');
    label(g, 667, yD(t), t.toFixed(1), 26, 'end', true, BLACK, 'growth-y-tick-label');
  });
  growthXTicks.forEach(function (t) {
    line(g, xD(t), yD(0), xD(t), yD(0) + 6, BLACK, 3, 'growth-x-tick');
    label(g, xD(t), 1591, fmt(t), 26, 'middle', true, BLACK, 'growth-x-tick-label');
  });
  ampStarHours.forEach(function (h, i) {
    label(g, xD(h), yD(ampStarValues[i]) + 4, '****', 24, 'middle', false, '#999999', 'growth-stars');
  });
  [[BLACK, 'Ctrl', 949], [LOW, 'NNS low', 983], [HIGH, 'NNS high', 1017], [GREY, 'Amp', 1051]].forEach(function (e) {
    line(g, 689, e[2], 714.5, e[2], e[0], 4, 'growth-legend-line');
    dot(g, 701.6, e[2], 8, e[0], 'growth-legend-dot');
    label(g, 726, e[2], e[1], 30, 'start', true, BLACK, 'growth-legend-text');
  });
})();
</script>
</svg>
</body>
</html>
